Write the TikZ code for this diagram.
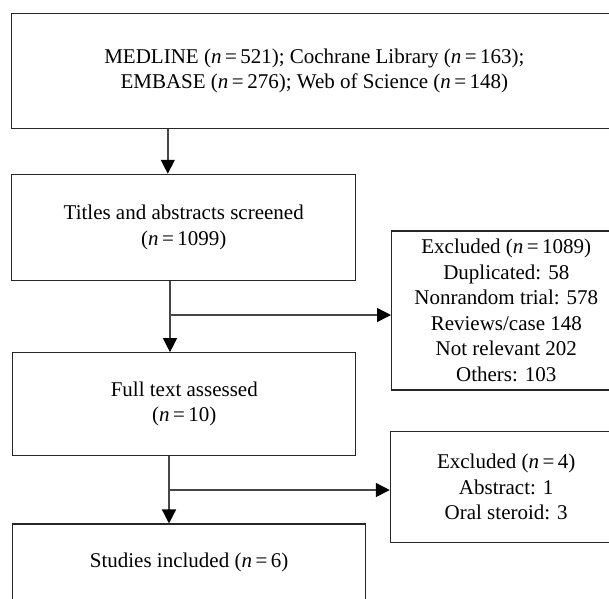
\documentclass[tikz,border=0pt]{standalone}
\usepackage{fontspec}
\setmainfont{Liberation Serif}
\usetikzlibrary{arrows.meta}
\tikzset{>={Triangle[length=14pt,width=14pt,color=black]}}
\tikzset{
  flowbox/.style={draw=black!85,line width=1.1pt,rectangle,align=center,inner sep=0pt},
  flowarr/.style={->,draw={rgb,255:red,70;green,70;blue,70},line width=1.4pt}
}
\newcommand{\nn}[1]{(\textit{n}\,=\,#1)}

\begin{document}
\begin{tikzpicture}[x=1pt,y=-1pt,font=\fontsize{21}{25.5}\selectfont]
  \useasboundingbox (0,0) rectangle (609,598);
  \clip (0,0) rectangle (609,598);
  \node[flowbox,minimum width=605.3pt,minimum height=115pt] (src) at (314.4,70.8) {MEDLINE \nn{521}; Cochrane Library \nn{163};\\EMBASE \nn{276}; Web of Science \nn{148}};
  \node[flowbox,minimum width=344pt,minimum height=106.4pt] (screen) at (183.7,227.5) {Titles and abstracts screened\\\nn{1099}};
  \node[flowbox,minimum width=229.5pt,minimum height=159pt] (excla) at (506.3,310.5) {Excluded \nn{1089}\\Duplicated: 58\\Nonrandom trial: 578\\Reviews/case 148\\Not relevant 202\\Others: 103};
  \node[flowbox,minimum width=343pt,minimum height=102.6pt] (full) at (184.3,404) {Full text assessed\\\nn{10}};
  \node[flowbox,minimum width=231.8pt,minimum height=111pt] (exclb) at (506.2,487.2) {Excluded \nn{4}\\Abstract: 1\\Oral steroid: 3};
  \node[flowbox,minimum width=352.6pt,minimum height=76pt] (incl) at (189.1,562) {Studies included \nn{6}};
  \coordinate (c1) at (167.8,0);
  \coordinate (j1) at (170,315);
  \coordinate (j2) at (169,490);
  \draw[flowarr] (src.south -| c1) -- (screen.north -| c1);
  \draw[flowarr] (screen.south -| j1) -- (full.north -| j1);
  \draw[flowarr] (j1) -- (j1 -| excla.west);
  \draw[flowarr] (full.south -| j2) -- (incl.north -| j2);
  \draw[flowarr] (j2) -- (j2 -| exclb.west);
\end{tikzpicture}
\end{document}
